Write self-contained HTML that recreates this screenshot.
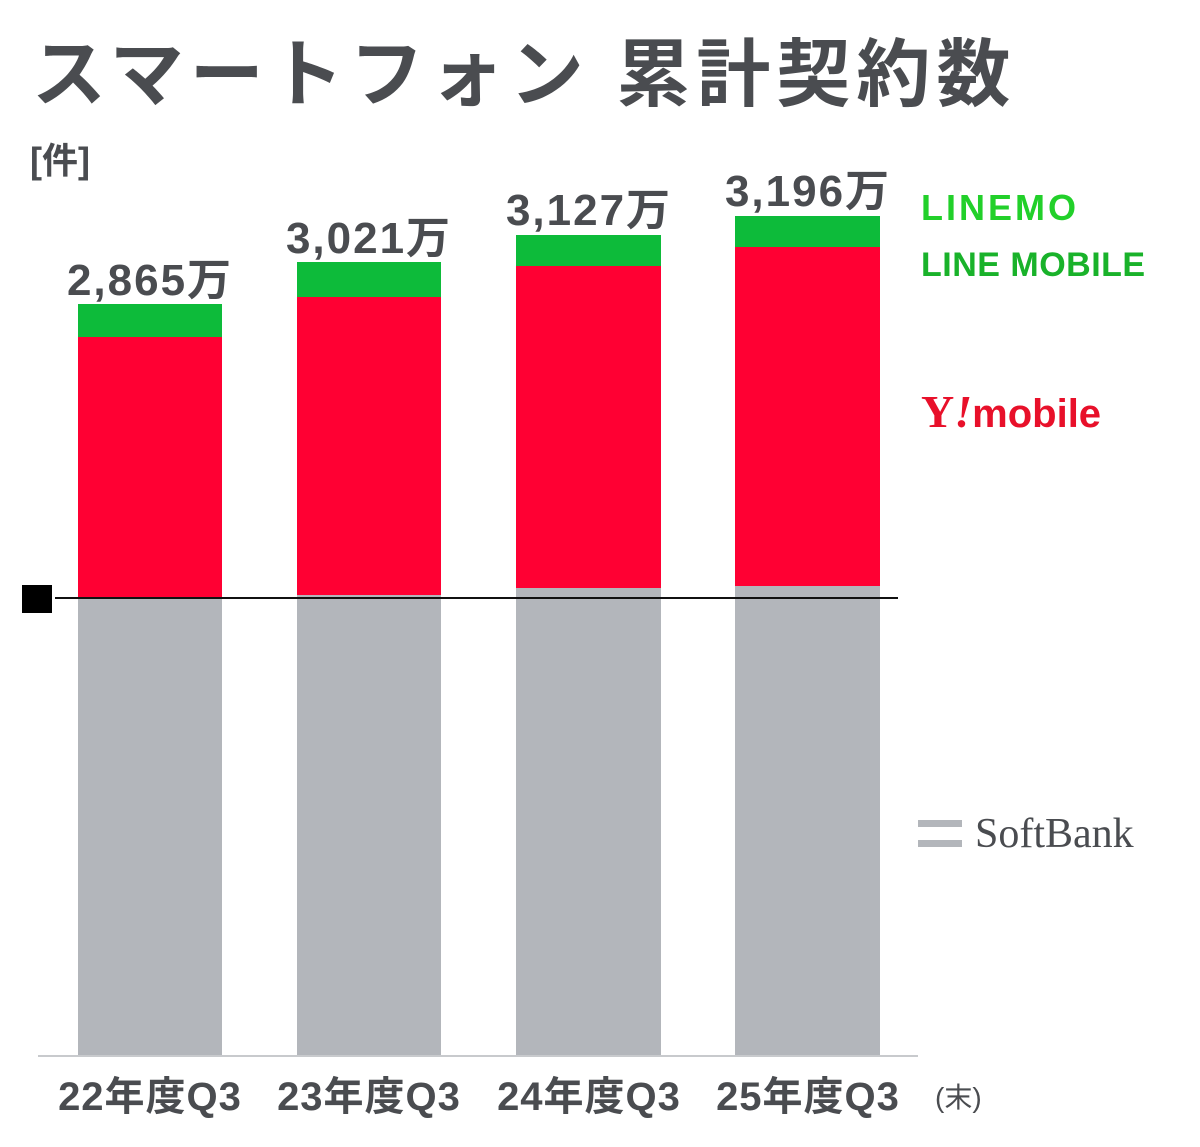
<!DOCTYPE html>
<html><head><meta charset="utf-8"><style>
body{margin:0;width:1200px;height:1147px;background:#fff;position:relative;overflow:hidden;font-family:"Liberation Sans","Noto Sans CJK JP",sans-serif;color:#4a4c50}
.a{position:absolute}
.t{font-weight:bold;white-space:nowrap}
.v{font-size:44px;line-height:50px;letter-spacing:2px;text-align:center;width:220px}
.x{font-size:40px;line-height:48px;letter-spacing:1px;text-align:center;width:220px}
</style></head><body>
<div class="a t" style="left:32px;top:30px;font-size:74px;letter-spacing:6px;line-height:90px">スマートフォン 累計契約数</div>
<div class="a t" style="left:30px;top:138px;font-size:36px;line-height:46px">[件]</div>

<div class="a" style="left:78px;top:304px;width:144px;height:33px;background:#0dbb3a"></div>
<div class="a" style="left:78px;top:337px;width:144px;height:261px;background:#ff0033"></div>
<div class="a" style="left:78px;top:598px;width:144px;height:458px;background:#b3b6bb"></div>

<div class="a" style="left:297px;top:262px;width:144px;height:35px;background:#0dbb3a"></div>
<div class="a" style="left:297px;top:297px;width:144px;height:298px;background:#ff0033"></div>
<div class="a" style="left:297px;top:595px;width:144px;height:461px;background:#b3b6bb"></div>

<div class="a" style="left:516px;top:235px;width:145px;height:31px;background:#0dbb3a"></div>
<div class="a" style="left:516px;top:266px;width:145px;height:322px;background:#ff0033"></div>
<div class="a" style="left:516px;top:588px;width:145px;height:468px;background:#b3b6bb"></div>

<div class="a" style="left:735px;top:216px;width:145px;height:31px;background:#0dbb3a"></div>
<div class="a" style="left:735px;top:247px;width:145px;height:339px;background:#ff0033"></div>
<div class="a" style="left:735px;top:586px;width:145px;height:470px;background:#b3b6bb"></div>

<div class="a" style="left:38px;top:1055px;width:880px;height:2px;background:#c8cacd"></div>
<div class="a" style="left:55px;top:597px;width:843px;height:2px;background:#111"></div>
<div class="a" style="left:22px;top:585px;width:30px;height:28px;background:#000"></div>

<div class="a t v" style="left:40px;top:256px">2,865万</div>
<div class="a t v" style="left:259px;top:214px">3,021万</div>
<div class="a t v" style="left:479px;top:186px">3,127万</div>
<div class="a t v" style="left:698px;top:167px">3,196万</div>

<div class="a t x" style="left:40px;top:1073px">22年度Q3</div>
<div class="a t x" style="left:259px;top:1073px">23年度Q3</div>
<div class="a t x" style="left:479px;top:1073px">24年度Q3</div>
<div class="a t x" style="left:698px;top:1073px">25年度Q3</div>
<div class="a" style="left:935px;top:1078px;font-size:28px;line-height:40px">(末)</div>

<div class="a t" style="left:921px;top:188px;font-size:36px;line-height:40px;color:#22d02a;letter-spacing:3px">LINEM<span style="color:#22d02a">O</span></div>
<div class="a t" style="left:921px;top:245px;font-size:34px;line-height:40px;color:#19b22a;letter-spacing:0.5px">LINE MOBILE</div>
<div class="a" style="left:921px;top:386px;font-size:46px;line-height:52px;color:#e8102a;font-family:'Liberation Serif',serif;font-weight:bold">Y<i>!</i><span style="font-family:'Liberation Sans',sans-serif;font-size:40px">mobile</span></div>
<div class="a" style="left:918px;top:820px;width:44px;height:7px;background:#b3b6bb"></div>
<div class="a" style="left:918px;top:840px;width:44px;height:7px;background:#b3b6bb"></div>
<div class="a" style="left:975px;top:810px;font-size:42px;line-height:48px;font-family:'Liberation Serif',serif;color:#4a4c50">SoftBank</div>
</body></html>
